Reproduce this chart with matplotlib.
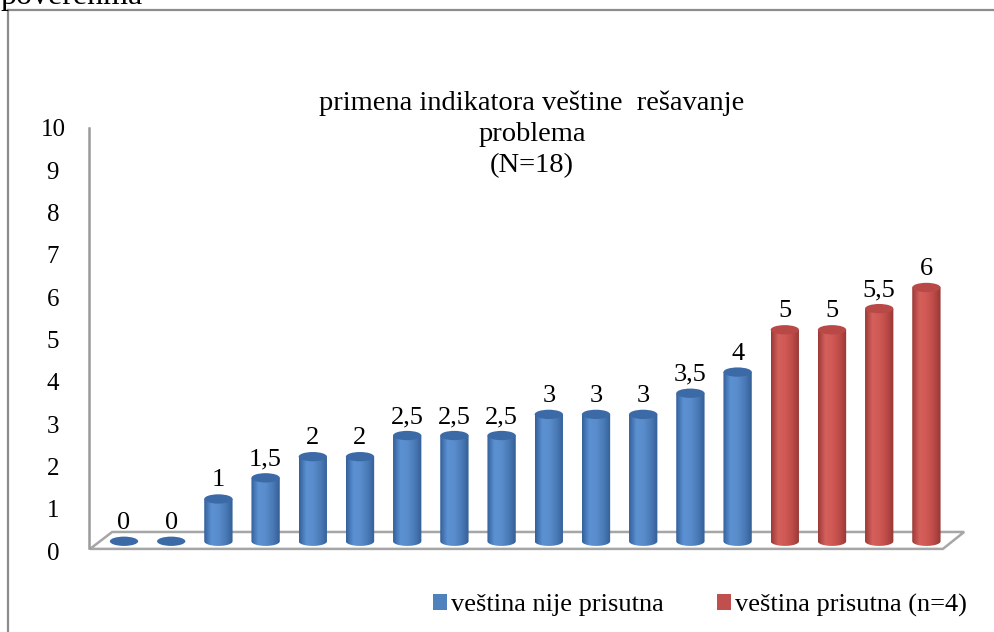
import numpy as np
import matplotlib.pyplot as plt
from matplotlib.patches import Ellipse, Polygon, Patch
from matplotlib.lines import Line2D
from matplotlib.colors import LinearSegmentedColormap

plt.rcParams['font.family'] = ['Liberation Serif', 'DejaVu Serif']

# data
values_absent = [0, 0, 1, 1.5, 2, 2, 2.5, 2.5, 2.5, 3, 3, 3, 3.5, 4]
values_present = [5, 5, 5.5, 6]
labels_absent = ['0', '0', '1', '1,5', '2', '2', '2,5', '2,5', '2,5', '3', '3', '3', '3,5', '4']
labels_present = ['5', '5', '5,5', '6']
legend_names = ['veština nije prisutna', 'veština prisutna (n=4)']
yticks = list(range(0, 11))

W, H = 994, 632
fig = plt.figure(figsize=(W / 100, H / 100), dpi=100)

# axes placed in pixel terms: x from 89 to 970, value 0 at y=551, 10 at y=128
x0px, x1px = 89, 970
ax = fig.add_axes([x0px / W, (H - 551) / H, (x1px - x0px) / W, (551 - 128) / H])

step = 47.2
xmin = -(124 - x0px) / step
xmax = xmin + (x1px - x0px) / step

vals = values_absent + values_present
labs = labels_absent + labels_present
n = len(vals)
xs = np.arange(n)
groups = [0] * len(values_absent) + [1] * len(values_present)

cmaps = [
    LinearSegmentedColormap.from_list('b', ['#35609a', '#5b90d2', '#5a8dcc', '#4a7bb8', '#355f96']),
    LinearSegmentedColormap.from_list('r', ['#9c3a37', '#d4605c', '#d05955', '#bd4b48', '#953835']),
]
top_cols = ['#3c6aa6', '#b94946']
base_off = 0.23
bw = 0.6
eh = 0.22

# floor (3d base plate)
fl = Polygon([[-0.72, 0.05], [-0.25, 0.45], [n - 0.2, 0.45], [n - 0.65, 0.05]],
             closed=True, facecolor='white', edgecolor='#a6a6a6', lw=1.8, clip_on=False, zorder=1)
ax.add_patch(fl)

grad = np.linspace(0, 1, 64).reshape(1, -1)
for x, v, g, lab in zip(xs, vals, groups, labs):
    base = base_off
    top = base_off + v
    a = bw / 2
    th = np.linspace(np.pi, 2 * np.pi, 40)
    pts = [[x - a, top], [x - a, base]]
    pts += [[x + a * np.cos(t), base + eh / 2 * np.sin(t)] for t in th[1:-1]]
    pts += [[x + a, base], [x + a, top], [x - a, top]]
    patch = Polygon(pts, closed=True, facecolor='none', edgecolor='none', transform=ax.transData)
    ax.add_patch(patch)
    if v > 0:
        im = ax.imshow(grad, cmap=cmaps[g], extent=[x - a, x + a, base - eh, top],
                       aspect='auto', zorder=2, interpolation='bilinear')
        im.set_clip_path(patch)
    ax.add_patch(Ellipse((x, top), bw, eh, facecolor=top_cols[g], edgecolor='none', zorder=3))
    ax.annotate(lab, (x, top), xytext=(0, 9), textcoords='offset points',
                ha='center', va='baseline', fontsize=19)

ax.set_xlim(xmin, xmax)
ax.set_ylim(0, 10)
ax.set_aspect('auto')
ax.set_yticks(yticks)
ax.set_yticklabels([str(t) for t in yticks])
ax.tick_params(axis='y', length=0, pad=26, labelsize=18)
for lbl in ax.get_yticklabels():
    lbl.set_horizontalalignment('center')
ax.set_xticks([])
for s in ['top', 'right', 'bottom']:
    ax.spines[s].set_visible(False)
ax.spines['left'].set_color('#9a9a9a')
ax.spines['left'].set_linewidth(1.8)
ax.spines['left'].set_bounds(0.07, 10)
ax.patch.set_alpha(0)

# title
fig.text(532 / W, 1 - 91 / H, 'primena indikatora veštine  rešavanje\nproblema\n(N=18)',
         ha='center', va='top', fontsize=20.5, linespacing=1.3)

# outer frame and clipped text above it
fig.add_artist(Line2D([8 / W, 8 / W], [0, 1 - 10 / H], color='#8c8c8c', lw=1.6))
fig.add_artist(Line2D([8 / W, 1], [1 - 10 / H, 1 - 10 / H], color='#8c8c8c', lw=1.6))
fig.text(0.0, 1 - 4 / H, 'poverenma', ha='left', va='baseline', fontsize=23)

handles = [Patch(facecolor='#4f81bd'), Patch(facecolor='#c0504d')]
fig.legend(handles, legend_names, loc='center', bbox_to_anchor=(700 / W, 1 - 605 / H),
           ncol=2, frameon=False, fontsize=19, handlelength=0.55, handleheight=0.55,
           handletextpad=0.15, columnspacing=2.0)

fig.savefig('out.png', dpi=100)
